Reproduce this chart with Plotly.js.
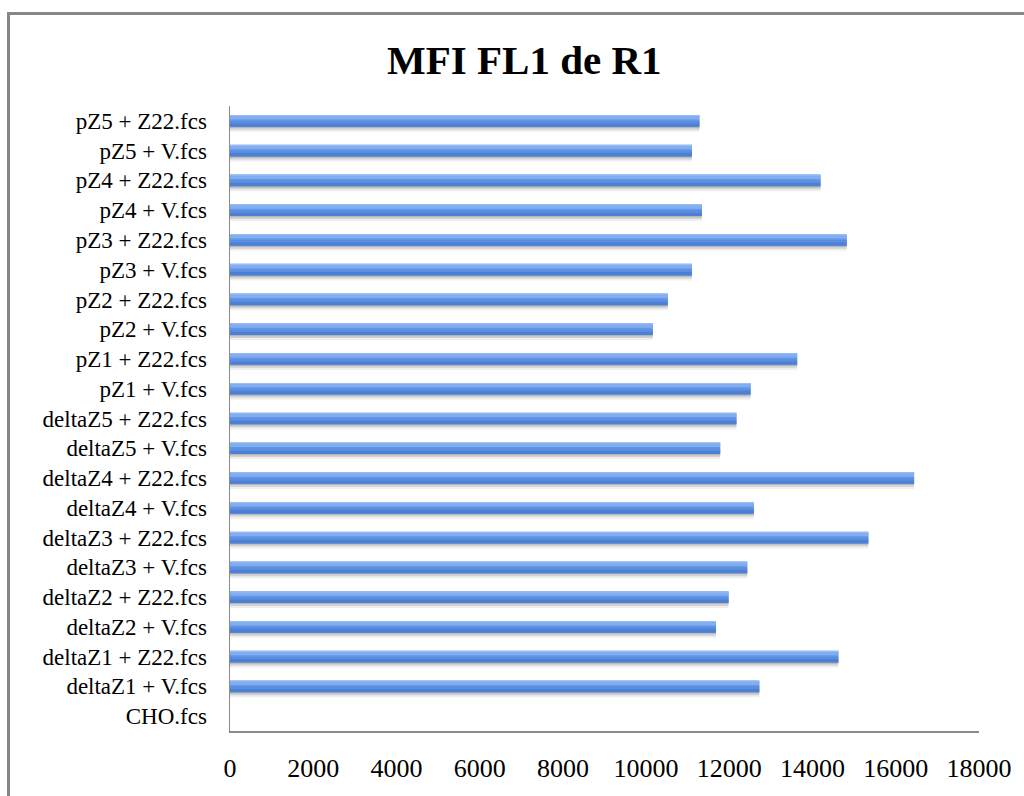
<!DOCTYPE html>
<html>
<head>
<meta charset="utf-8">
<script src="https://cdn.plot.ly/plotly-3.0.1.min.js"></script>
<style>
  html, body { margin: 0; padding: 0; background: #fff; }
  #chart { width: 1024px; height: 796px; position: relative; }
  #frame { position: absolute; left: 7px; top: 12px; width: 1040px; height: 820px;
           border-left: 3px solid #878787; border-top: 3px solid #878787; pointer-events: none; }
</style>
</head>
<body>
<div id="chart"></div>
<div id="frame"></div>
<script>
// Categories listed bottom to top (as drawn on the category axis)
const categories = [
  "CHO.fcs",
  "deltaZ1 + V.fcs",
  "deltaZ1 + Z22.fcs",
  "deltaZ2 + V.fcs",
  "deltaZ2 + Z22.fcs",
  "deltaZ3 + V.fcs",
  "deltaZ3 + Z22.fcs",
  "deltaZ4 + V.fcs",
  "deltaZ4 + Z22.fcs",
  "deltaZ5 + V.fcs",
  "deltaZ5 + Z22.fcs",
  "pZ1 + V.fcs",
  "pZ1 + Z22.fcs",
  "pZ2 + V.fcs",
  "pZ2 + Z22.fcs",
  "pZ3 + V.fcs",
  "pZ3 + Z22.fcs",
  "pZ4 + V.fcs",
  "pZ4 + Z22.fcs",
  "pZ5 + V.fcs",
  "pZ5 + Z22.fcs"
];
const mfiValues = [
  0,
  12720,
  14620,
  11680,
  11980,
  12430,
  15340,
  12590,
  16440,
  11780,
  12170,
  12510,
  13630,
  10160,
  10520,
  11100,
  14820,
  11340,
  14190,
  11100,
  11280
];
const xTicks = [0, 2000, 4000, 6000, 8000, 10000, 12000, 14000, 16000, 18000];
const chartTitle = "MFI FL1 de R1";

const W = 0.393;
function layer(color, width, offset) {
  return {
    type: "bar", orientation: "h",
    x: mfiValues, y: categories,
    width: width, offset: offset,
    marker: { color: color, line: { width: 0 } },
    hoverinfo: "skip", showlegend: false
  };
}
const traces = [
  layer("rgba(120,120,120,0.12)", W, -W / 2 - 0.17),
  layer("rgba(110,110,110,0.22)", W, -W / 2 - 0.10),
  layer("rgba(100,100,100,0.25)", W, -W / 2 - 0.04),
  layer("#6396e4", W, -W / 2),
  layer("#4c80d4", 0.12, -W / 2),
  layer("#5a8de0", 0.07, -W / 2 + 0.12),
  layer("#82adf0", 0.12, W / 2 - 0.15),
  layer("#97bdf6", 0.04, W / 2 - 0.04)
];

const layout = {
  width: 1024, height: 796,
  margin: { l: 230, r: 45, t: 106, b: 65 },
  paper_bgcolor: "#ffffff", plot_bgcolor: "#ffffff",
  barmode: "overlay",
  title: {
    text: "<b>" + chartTitle + "</b>",
    font: { family: "Liberation Serif, serif", size: 41, color: "#000" },
    x: 0.512, xref: "container", xanchor: "center",
    y: 1 - 60 / 796, yref: "container", yanchor: "middle"
  },
  xaxis: {
    range: [0, 18000], tickvals: xTicks, ticktext: xTicks.map(String),
    showgrid: false, zeroline: false,
    showline: true, linecolor: "#8a8a8a", linewidth: 1.5,
    ticks: "", ticklabelstandoff: 13,
    tickfont: { family: "Liberation Serif, serif", size: 26, color: "#000" }
  },
  yaxis: {
    type: "category", categoryorder: "array", categoryarray: categories,
    range: [-0.5, categories.length - 0.5],
    showgrid: false, zeroline: false,
    showline: true, linecolor: "#8a8a8a", linewidth: 1.5,
    ticks: "", ticklabelstandoff: 17,
    tickfont: { family: "Liberation Serif, serif", size: 23, color: "#000" }
  }
};

Plotly.newPlot("chart", traces, layout, { displayModeBar: false, staticPlot: true });
</script>
</body>
</html>
